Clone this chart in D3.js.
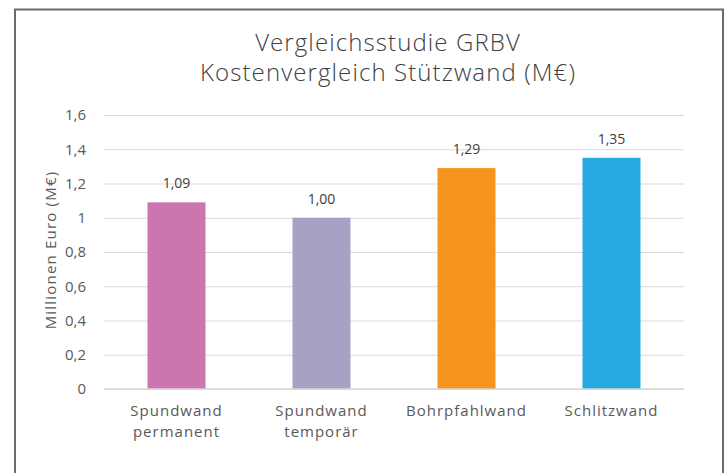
<!DOCTYPE html>
<html>
<head>
<meta charset="utf-8">
<script src="https://cdn.jsdelivr.net/npm/d3@7"></script>
<style>
  body { margin: 0; background: #fff; }
  svg { display: block; }
</style>
</head>
<body>
<div id="chart"></div>
<script>
// data
var categories = [["Spundwand", "permanent"], ["Spundwand", "temporär"], ["Bohrpfahlwand"], ["Schlitzwand"]];
var values = [1.09, 1.00, 1.29, 1.35];
var valueLabels = ["1,09", "1,00", "1,29", "1,35"];
var barColors = ["#cc76b0", "#a6a2c4", "#f7941d", "#29a9e1"];
var yTicks = [0, 0.2, 0.4, 0.6, 0.8, 1, 1.2, 1.4, 1.6];
var titleLines = ["Vergleichsstudie GRBV", "Kostenvergleich Stützwand (M€)"];

var w = 727, h = 473;
var margin = {top: 115, right: 43, bottom: 84, left: 104};
var innerW = w - margin.left - margin.right,
    innerH = h - margin.top - margin.bottom;

var font = "'Open Sans', sans-serif";

var svg = d3.select("#chart").append("svg")
    .attr("width", w)
    .attr("height", h);

// outer frame
svg.append("rect")
    .attr("x", 15).attr("y", 9.5)
    .attr("width", 708).attr("height", 480)
    .attr("fill", "#fff")
    .attr("stroke", "#6b6b6b")
    .attr("stroke-width", 2);

// title
svg.append("text")
    .attr("x", 388).attr("y", 51)
    .attr("text-anchor", "middle")
    .style("font-family", font)
    .style("font-weight", 300)
    .style("font-size", "24px")
    .style("letter-spacing", "1.1px")
    .attr("fill", "#404040")
    .selectAll("tspan")
    .data(titleLines)
    .enter().append("tspan")
    .attr("x", 388)
    .attr("dy", function(d, i){ return i == 0 ? 0 : 30; })
    .text(function(d){ return d; });

var g = svg.append("g")
    .attr("transform", "translate(" + margin.left + "," + margin.top + ")");

var x = d3.scaleBand()
    .domain(d3.range(values.length))
    .range([0, innerW])
    .paddingInner(0.6)
    .paddingOuter(0.3);

var y = d3.scaleLinear().domain([0, 1.6]).range([innerH, 0]);

var fmt = function(d){ return String(d).replace(".", ","); };

// gridlines
g.append("g")
    .call(d3.axisLeft(y).tickValues(yTicks).tickSize(-innerW).tickFormat(""))
    .call(function(a){ a.select(".domain").remove(); })
    .selectAll("line")
    .attr("stroke", "#d9d9d9");

// y tick labels
var yAxis = g.append("g")
    .call(d3.axisLeft(y).tickValues(yTicks).tickSize(0).tickPadding(18).tickFormat(fmt));
yAxis.select(".domain").remove();
yAxis.selectAll("text")
    .style("font-family", font)
    .style("font-size", "15px")
    .attr("fill", "#595959");

// y axis title
svg.append("text")
    .attr("transform", "translate(56," + (margin.top + innerH / 2 - 2) + ") rotate(-90)")
    .attr("text-anchor", "middle")
    .style("font-family", font)
    .style("font-size", "15px")
    .style("letter-spacing", "1.2px")
    .attr("fill", "#595959")
    .text("Millionen Euro (M€)");

// bars
g.selectAll(".bar")
    .data(values)
    .enter().append("rect")
    .attr("class", "bar")
    .attr("x", function(d, i){ return x(i); })
    .attr("y", function(d){ return y(d); })
    .attr("width", x.bandwidth())
    .attr("height", function(d){ return innerH - y(d); })
    .attr("fill", function(d, i){ return barColors[i]; });

// baseline
g.append("line")
    .attr("x1", 0).attr("x2", innerW)
    .attr("y1", innerH).attr("y2", innerH)
    .attr("stroke", "#d9d9d9")
    .attr("stroke-width", 1.5);

// value labels
g.selectAll(".val")
    .data(values)
    .enter().append("text")
    .attr("class", "val")
    .attr("x", function(d, i){ return x(i) + x.bandwidth() / 2; })
    .attr("y", function(d){ return y(d) - 14; })
    .attr("text-anchor", "middle")
    .style("font-family", "'Open Sans', sans-serif")
    .style("font-size", "14px")
    .attr("fill", "#404040")
    .text(function(d, i){ return valueLabels[i]; });

// category labels
var cat = g.selectAll(".cat")
    .data(categories)
    .enter().append("text")
    .attr("class", "cat")
    .attr("text-anchor", "middle")
    .attr("transform", function(d, i){ return "translate(" + (x(i) + x.bandwidth() / 2) + "," + (innerH + 27) + ")"; })
    .style("font-family", font)
    .style("font-size", "15px")
    .style("letter-spacing", "1px")
    .attr("fill", "#595959");

cat.selectAll("tspan")
    .data(function(d){ return d; })
    .enter().append("tspan")
    .attr("x", 0)
    .attr("dy", function(d, i){ return i == 0 ? 0 : 21; })
    .text(function(d){ return d; });
</script>
</body>
</html>
